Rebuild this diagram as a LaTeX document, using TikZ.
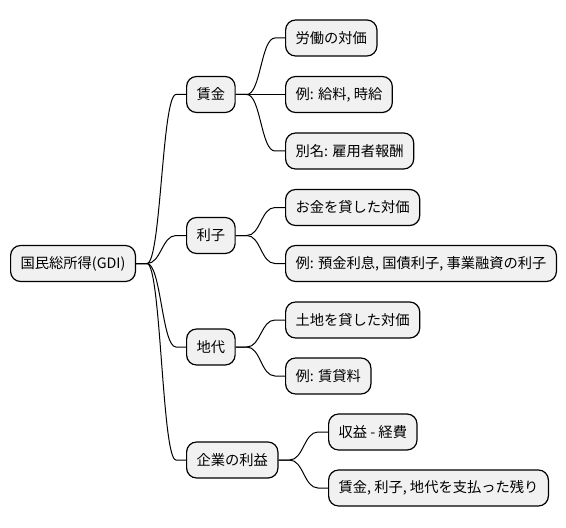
\documentclass[tikz,border=0pt]{standalone}
\usepackage{fontspec}
\setmainfont{Noto Sans CJK JP}
\usetikzlibrary{positioning}
\definecolor{MapFill}{HTML}{F1F1F1}

\begin{document}
\begin{tikzpicture}[x=0.75pt, y=-0.75pt,
          topic/.style={
            rounded corners=7.5pt,
            draw=black,
            line width=0.9pt,
            fill=MapFill,
            anchor=west,
            minimum height=27pt,
            inner xsep=7.5pt,
            font=\fontsize{10.7}{12}\selectfont
          },
          link/.style={line width=0.75pt, black}
        ]
        \useasboundingbox (0,0) rectangle (566,527);
        % root
        \node[topic] (gdi) at (10,263.5) {国民総所得(GDI)};
        % first level
        \node[topic] (wage) at (186,94.5) {賃金};
        \node[topic] (interest) at (186,235.5) {利子};
        \node[topic] (rent) at (186,347) {地代};
        \node[topic] (profit) at (186,460) {企業の利益};
        % second level
        \node[topic] (wageA) at (285,38) {労働の対価};
        \node[topic] (wageB) at (285,94.5) {例: 給料, 時給};
        \node[topic] (wageC) at (285,151) {別名: 雇用者報酬};
        \node[topic] (intA) at (285,207.5) {お金を貸した対価};
        \node[topic] (intB) at (285,263.5) {例: 預金利息, 国債利子, 事業融資の利子};
        \node[topic] (rentA) at (285,320) {土地を貸した対価};
        \node[topic] (rentB) at (285,376) {例: 賃貸料};
        \node[topic] (profA) at (328,432) {収益 - 経費};
        \node[topic] (profB) at (328,488) {賃金, 利子, 地代を支払った残り};
        % connectors
        \foreach \p/\c in {gdi/wage, gdi/interest, gdi/rent, gdi/profit,
                           wage/wageA, wage/wageC, interest/intA, interest/intB,
                           rent/rentA, rent/rentB, profit/profA, profit/profB}
          \draw[link] (\p.east) -- ++(11,0)
            .. controls +(14,0) and +(-14,0) .. ([xshift=-7.5pt]\c.west) -- (\c.west);
        \draw[link] (wage) -- (wageB);
      \end{tikzpicture}
\end{document}
